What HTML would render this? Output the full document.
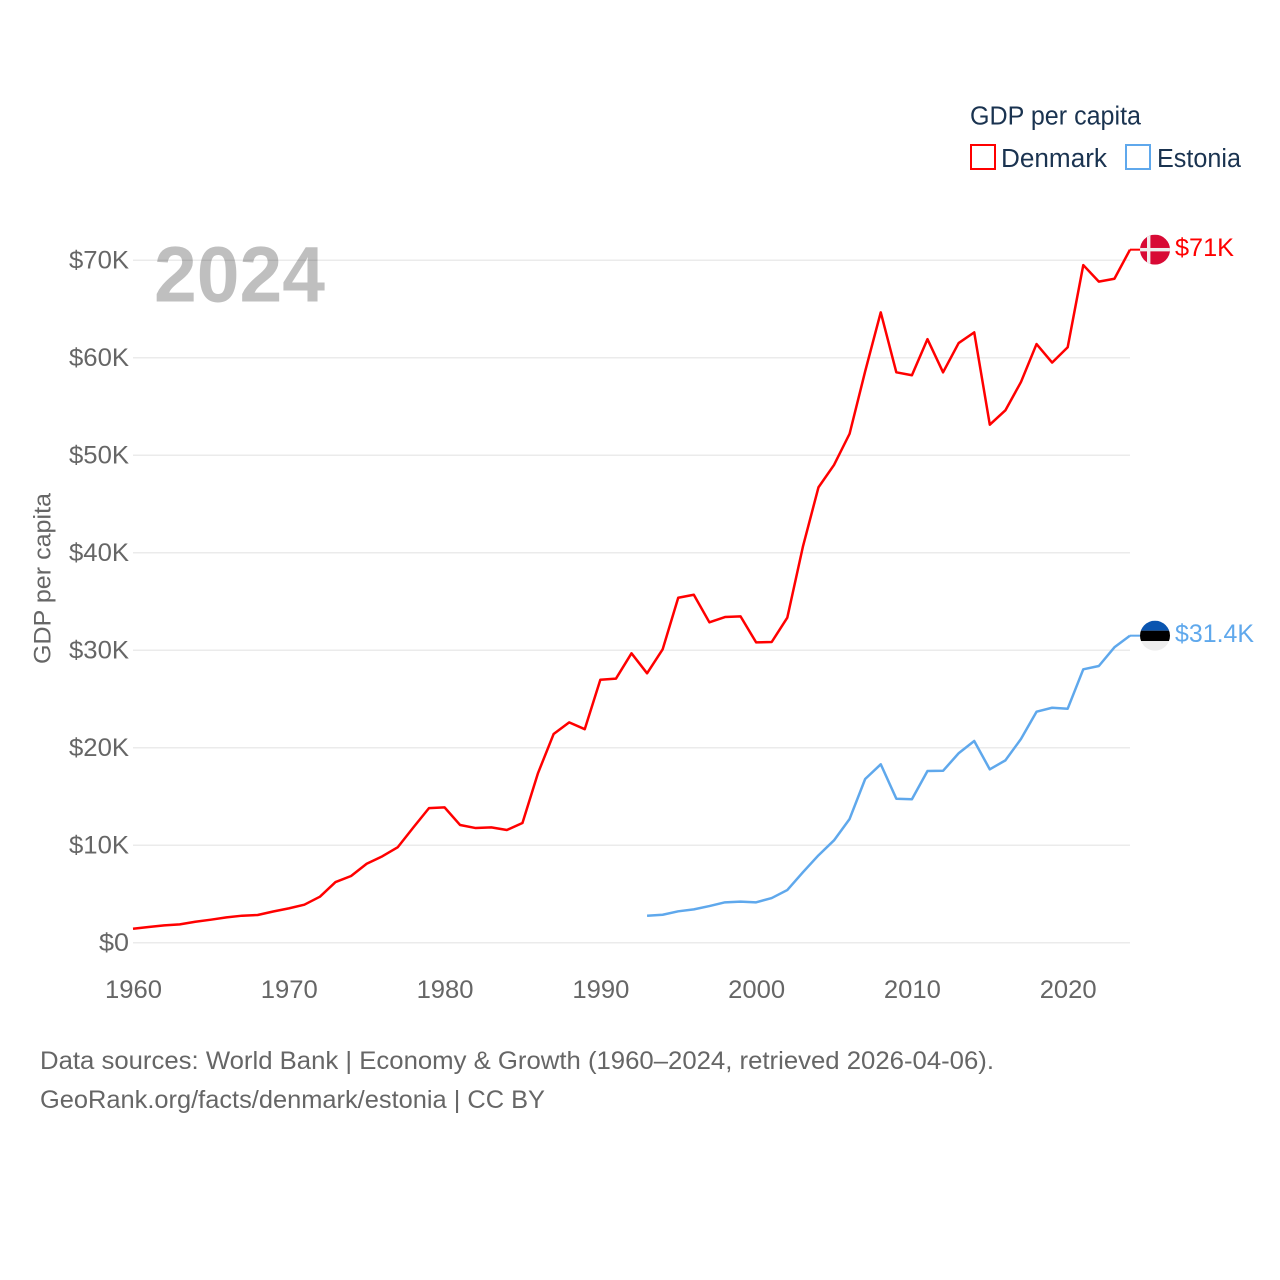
<!DOCTYPE html>
<html lang="en">
<head>
<meta charset="utf-8">
<title>GDP per capita: Denmark and Estonia</title>
<style>
html,body{margin:0;padding:0;background:#fff;}
svg{display:block;}
text{font-family:"Liberation Sans",sans-serif;}
</style>
</head>
<body>
<svg id="chart" xmlns="http://www.w3.org/2000/svg" width="1280" height="1280" viewBox="0 0 1280 1280">
  <rect x="0" y="0" width="1280" height="1280" fill="#fff"/>
  <g id="grid"></g>
  <g id="yticks"></g>
  <g id="xticks"></g>
  <text transform="translate(50.5 578.5) rotate(-90)" text-anchor="middle" font-size="24.5" fill="#666" textLength="171" lengthAdjust="spacingAndGlyphs">GDP per capita</text>
  <g id="series"></g>
  <g id="flags"></g>
  <text x="154" y="301.5" font-size="79" font-weight="700" fill="#000" fill-opacity="0.25" textLength="171" lengthAdjust="spacingAndGlyphs">2024</text>

  <g>
    <text x="970" y="124.5" font-size="25.5" fill="#1a3350" textLength="171" lengthAdjust="spacingAndGlyphs">GDP per capita</text>
    <g>
      <rect x="971" y="145" width="24" height="24" fill="#fff" stroke="#ff0000" stroke-width="2"/>
      <text x="1001" y="167" font-size="25.5" fill="#1a3350" textLength="106" lengthAdjust="spacingAndGlyphs">Denmark</text>
    </g>
    <g>
      <rect x="1126" y="145" width="24" height="24" fill="#fff" stroke="#5fa8ec" stroke-width="2"/>
      <text x="1157" y="167" font-size="25.5" fill="#1a3350" textLength="84" lengthAdjust="spacingAndGlyphs">Estonia</text>
    </g>
  </g>

  <g>
    <text x="40" y="1069" font-size="25" fill="#666" textLength="954" lengthAdjust="spacingAndGlyphs">Data sources: World Bank | Economy &amp; Growth (1960–2024, retrieved 2026-04-06).</text>
    <text x="40" y="1108" font-size="25" fill="#666" textLength="505" lengthAdjust="spacingAndGlyphs">GeoRank.org/facts/denmark/estonia | CC BY</text>
  </g>
</svg>
<script>
const denmarkYears = [1960,1961,1962,1963,1964,1965,1966,1967,1968,1969,1970,1971,1972,1973,1974,1975,1976,1977,1978,1979,1980,1981,1982,1983,1984,1985,1986,1987,1988,1989,1990,1991,1992,1993,1994,1995,1996,1997,1998,1999,2000,2001,2002,2003,2004,2005,2006,2007,2008,2009,2010,2011,2012,2013,2014,2015,2016,2017,2018,2019,2020,2021,2022,2023,2024];
const denmarkValues = [1436,1610,1780,1880,2150,2360,2600,2770,2840,3200,3520,3900,4720,6220,6840,8100,8860,9800,11830,13800,13880,12070,11760,11830,11560,12280,17400,21400,22600,21900,26970,27080,29680,27630,30090,35380,35690,32860,33400,33470,30800,30840,33330,40600,46700,49000,52200,58600,64650,58500,58200,61900,58500,61500,62600,53130,54600,57500,61400,59500,61070,69500,67800,68100,71080];
const estoniaYears = [1993,1994,1995,1996,1997,1998,1999,2000,2001,2002,2003,2004,2005,2006,2007,2008,2009,2010,2011,2012,2013,2014,2015,2016,2017,2018,2019,2020,2021,2022,2023,2024];
const estoniaValues = [2770,2870,3220,3420,3760,4140,4210,4140,4580,5400,7220,8960,10500,12690,16790,18300,14770,14710,17610,17630,19430,20690,17780,18700,20890,23690,24100,24000,28040,28380,30300,31490];
const yTickValues = [0,10000,20000,30000,40000,50000,60000,70000];
const yTickLabels = ["$0","$10K","$20K","$30K","$40K","$50K","$60K","$70K"];
const xTickValues = [1960,1970,1980,1990,2000,2010,2020];
const xTickLabels = ["1960","1970","1980","1990","2000","2010","2020"];
const denmarkEndLabel = "$71K";
const estoniaEndLabel = "$31.4K";

const plotLeft = 133, plotRight = 1130, plotBottom = 942.7, plotTop = 260.2;
const xDomain = [1960, 2024], yDomain = [0, 70000];
function xScale(v) { return plotLeft + (v - xDomain[0]) / (xDomain[1] - xDomain[0]) * (plotRight - plotLeft); }
function yScale(v) { return plotBottom - (v - yDomain[0]) / (yDomain[1] - yDomain[0]) * (plotBottom - plotTop); }

const NS = 'http://www.w3.org/2000/svg';
function make(tag, parent, attrs, content) {
  const el = document.createElementNS(NS, tag);
  for (const k in attrs) el.setAttribute(k, attrs[k]);
  if (content !== undefined) el.textContent = content;
  parent.appendChild(el);
  return el;
}

const gridGroup = document.getElementById('grid');
const yTickGroup = document.getElementById('yticks');
yTickValues.forEach(function (v, i) {
  const line = make('line', gridGroup, {x1: plotLeft, x2: plotRight, y1: yScale(v), y2: yScale(v), stroke: '#ebebeb', 'stroke-width': 1.5});
  
  
  const label = make('text', yTickGroup, {x: 129, y: yScale(v) + 8.5, 'text-anchor': 'end', 'font-size': 25, fill: '#666', textLength: yTickLabels[i].length * 15, lengthAdjust: 'spacingAndGlyphs'}, yTickLabels[i]);
  
  
});

const xTickGroup = document.getElementById('xticks');
xTickValues.forEach(function (v, i) {
  const label = make('text', xTickGroup, {x: xScale(v) + 0.5, y: 998, 'text-anchor': 'middle', 'font-size': 25, fill: '#666', textLength: 57, lengthAdjust: 'spacingAndGlyphs'}, xTickLabels[i]);
  
  
});

function linePoints(years, values) {
  return years.map(function (yr, i) { return xScale(yr).toFixed(2) + ',' + yScale(values[i]).toFixed(2); }).join(' ');
}

const seriesGroup = document.getElementById('series');
const flagGroup = document.getElementById('flags');
const flagCx = 1155, flagR = 15, labelX = 1175;

const denmarkLine = make('polyline', seriesGroup, {points: linePoints(denmarkYears, denmarkValues), fill: 'none', stroke: '#ff0000', 'stroke-width': 2.5, 'stroke-linejoin': 'round'});


const estoniaLine = make('polyline', seriesGroup, {points: linePoints(estoniaYears, estoniaValues), fill: 'none', stroke: '#5fa8ec', 'stroke-width': 2.5, 'stroke-linejoin': 'round'});



const dkEndY = yScale(denmarkValues[denmarkValues.length - 1]);
const eeEndY = yScale(estoniaValues[estoniaValues.length - 1]);

const dkConnector = make('line', seriesGroup, {x1: xScale(2024), x2: flagCx - flagR, y1: dkEndY, y2: dkEndY, stroke: '#ff0000', 'stroke-width': 2});


const eeConnector = make('line', seriesGroup, {x1: xScale(2024), x2: flagCx - flagR, y1: eeEndY, y2: eeEndY, stroke: '#5fa8ec', 'stroke-width': 2});



const defs = make('defs', flagGroup, {});
const dkClip = make('clipPath', defs, {id: 'clip-dk'});
make('circle', dkClip, {cx: flagCx, cy: dkEndY, r: flagR});
const eeClip = make('clipPath', defs, {id: 'clip-ee'});
make('circle', eeClip, {cx: flagCx, cy: eeEndY, r: flagR});

const dkFlag = make('g', flagGroup, {'clip-path': 'url(#clip-dk)'});


make('rect', dkFlag, {x: flagCx - flagR, y: dkEndY - flagR, width: 30, height: 30, fill: '#d80a35'});
make('rect', dkFlag, {x: flagCx - 8, y: dkEndY - flagR, width: 3.4, height: 30, fill: '#eeeeee'});
make('rect', dkFlag, {x: flagCx - flagR, y: dkEndY - 1.7, width: 30, height: 3.4, fill: '#eeeeee'});

const eeFlag = make('g', flagGroup, {'clip-path': 'url(#clip-ee)'});


make('rect', eeFlag, {x: flagCx - flagR, y: eeEndY - flagR, width: 30, height: 10, fill: '#0a55b0'});
make('rect', eeFlag, {x: flagCx - flagR, y: eeEndY - 5, width: 30, height: 10.4, fill: '#000000'});
make('rect', eeFlag, {x: flagCx - flagR, y: eeEndY + 5.4, width: 30, height: 10, fill: '#eeeeee'});

const dkLabel = make('text', flagGroup, {x: labelX, y: dkEndY + 6.5, 'font-size': 25, fill: '#ff0000', textLength: 59, lengthAdjust: 'spacingAndGlyphs'}, denmarkEndLabel);


const eeLabel = make('text', flagGroup, {x: labelX, y: eeEndY + 6.5, 'font-size': 25, fill: '#5fa8ec', textLength: 79, lengthAdjust: 'spacingAndGlyphs'}, estoniaEndLabel);


</script>
</body>
</html>
